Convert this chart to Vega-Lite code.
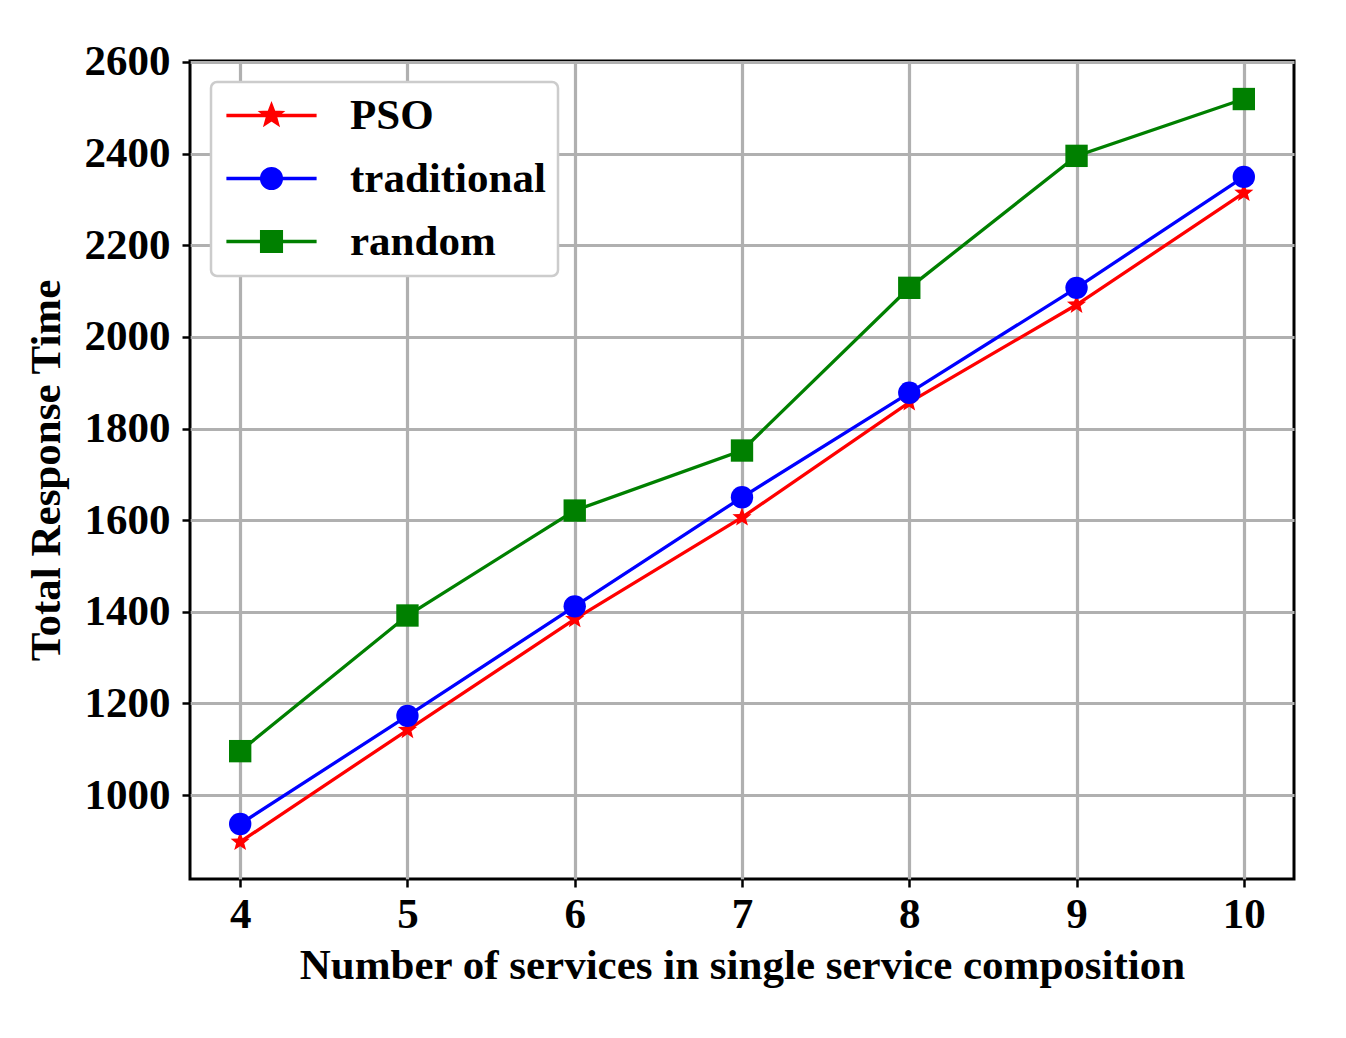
{
  "$schema": "https://vega.github.io/schema/vega-lite/v6.json",
  "width": 1104,
  "height": 818,
  "autosize": "none",
  "padding": {"left": 190, "top": 61, "right": 52, "bottom": 159},
  "config": {
    "font": "Liberation Serif",
    "view": {"stroke": "black", "strokeWidth": 3},
    "axis": {
      "domain": false,
      "grid": true,
      "gridColor": "#b0b0b0",
      "gridWidth": 3.2,
      "ticks": true,
      "tickColor": "black",
      "tickWidth": 2.5,
      "tickSize": 8,
      "format": "d",
      "labelFont": "Liberation Serif",
      "labelFontSize": 43,
      "labelFontWeight": "bold",
      "labelColor": "black",
      "titleFont": "Liberation Serif",
      "titleFontSize": 43,
      "titleFontWeight": "bold",
      "titleColor": "black"
    },
    "legend": {
      "fillColor": "white",
      "strokeColor": "#cccccc",
      "padding": 12,
      "cornerRadius": 6
    }
  },
  "data": {
    "values": [
      {"n": 4, "method": "PSO", "time": 898},
      {"n": 5, "method": "PSO", "time": 1142},
      {"n": 6, "method": "PSO", "time": 1384},
      {"n": 7, "method": "PSO", "time": 1606},
      {"n": 8, "method": "PSO", "time": 1857},
      {"n": 9, "method": "PSO", "time": 2070},
      {"n": 10, "method": "PSO", "time": 2314},
      {"n": 4, "method": "traditional", "time": 937},
      {"n": 5, "method": "traditional", "time": 1173},
      {"n": 6, "method": "traditional", "time": 1412},
      {"n": 7, "method": "traditional", "time": 1650},
      {"n": 8, "method": "traditional", "time": 1878},
      {"n": 9, "method": "traditional", "time": 2107},
      {"n": 10, "method": "traditional", "time": 2349},
      {"n": 4, "method": "random", "time": 1096},
      {"n": 5, "method": "random", "time": 1392},
      {"n": 6, "method": "random", "time": 1621},
      {"n": 7, "method": "random", "time": 1752},
      {"n": 8, "method": "random", "time": 2107},
      {"n": 9, "method": "random", "time": 2395},
      {"n": 10, "method": "random", "time": 2519}
    ]
  },
  "encoding": {
    "x": {
      "field": "n",
      "type": "quantitative",
      "scale": {"domain": [3.7, 10.3], "nice": false, "zero": false},
      "axis": {"values": [4, 5, 6, 7, 8, 9, 10], "title": "Number of services in single service composition", "labelPadding": 6, "titlePadding": 8}
    },
    "y": {
      "field": "time",
      "type": "quantitative",
      "scale": {"domain": [817, 2602], "nice": false, "zero": false},
      "axis": {"values": [1000, 1200, 1400, 1600, 1800, 2000, 2200, 2400, 2600], "title": "Total Response Time", "labelPadding": 12, "titlePadding": 16}
    },
    "color": {
      "field": "method",
      "type": "nominal",
      "scale": {"domain": ["PSO", "traditional", "random"], "range": ["#ff0000", "#0000ff", "#008000"]},
      "legend": {
        "title": null,
        "orient": "top-left",
        "offset": 21,
        "symbolSize": 484,
        "symbolOffset": 27,
        "labelOffset": 57,
        "labelLimit": 500,
        "labelFont": "Liberation Serif",
        "labelFontSize": 43,
        "labelFontWeight": "bold",
        "labelColor": "black",
        "rowPadding": 19,
        "encode": {
          "legend": {
            "update": {
              "strokeWidth": {"value": 2.5}
            }
          },
          "symbols": {
            "update": {
              "shape": {"signal": "datum.value === 'PSO' ? 'M-4.1,0H4.1M0,-0.9L0.223,-0.307L0.856,-0.278L0.361,0.117L0.529,0.728L0,0.38L-0.529,0.728L-0.361,0.117L-0.856,-0.278L-0.223,-0.307Z' : datum.value === 'traditional' ? 'M-4.1,0H4.1M0.9,0A0.9,0.9,0,1,1,-0.9,0A0.9,0.9,0,1,1,0.9,0Z' : 'M-4.1,0H4.1M-0.9,-0.9H0.9V0.9H-0.9Z'"},
              "stroke": {"signal": "scale('color', datum.value)"},
              "strokeWidth": {"value": 3.3},
              "opacity": {"value": 1}
            }
          }
        }
      }
    }
  },
  "layer": [
    {
      "mark": {"type": "line", "strokeWidth": 3.3}
    },
    {
      "transform": [{"filter": "datum.method === 'PSO'"}],
      "mark": {"type": "point", "filled": true, "size": 500, "opacity": 1, "shape": "M0,-0.9L0.223,-0.307L0.856,-0.278L0.361,0.117L0.529,0.728L0,0.38L-0.529,0.728L-0.361,0.117L-0.856,-0.278L-0.223,-0.307Z"}
    },
    {
      "transform": [{"filter": "datum.method === 'traditional'"}],
      "mark": {"type": "point", "filled": true, "size": 500, "opacity": 1, "shape": "circle"}
    },
    {
      "transform": [{"filter": "datum.method === 'random'"}],
      "mark": {"type": "point", "filled": true, "size": 500, "opacity": 1, "shape": "square"}
    }
  ]
}
